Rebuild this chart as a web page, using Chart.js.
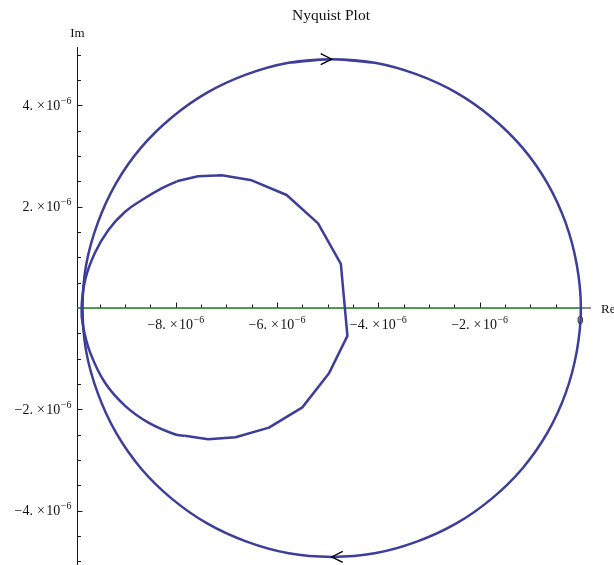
<!DOCTYPE html>
<html>
<head>
<meta charset="utf-8">
<title>Nyquist Plot</title>
<script src="https://cdn.jsdelivr.net/npm/chart.js@4/dist/chart.umd.min.js"></script>
<style>
  html, body { margin: 0; padding: 0; background: #ffffff; }
  canvas { display: block; }
</style>
</head>
<body>
<canvas id="nyquist" width="614" height="565"></canvas>
<script>
// All coordinates are in units of 1e-6 (real part, imaginary part).

// Outer locus, traversed clockwise; the first and last samples overlap
// by one step around the top so the closed curve stays smooth there.
const outerRe = [-5.77, -4.92, -4.07, -3.24, -2.46, -1.76, -1.15, -0.66, -0.30, -0.08, 0.00,
                 -0.08, -0.30, -0.66, -1.15, -1.76, -2.46, -3.24, -4.07, -4.92,
                 -5.77, -6.60, -7.38, -8.08, -8.69, -9.18, -9.54, -9.77, -9.84,
                 -9.77, -9.54, -9.18, -8.69, -8.08, -7.38, -6.60, -5.77, -4.92, -4.07];
const outerIm = [4.84, 4.91, 4.84, 4.61, 4.25, 3.76, 3.16, 2.46, 1.68, 0.85, 0.00,
                 -0.85, -1.68, -2.46, -3.16, -3.76, -4.25, -4.61, -4.84, -4.91,
                 -4.84, -4.61, -4.25, -3.76, -3.16, -2.46, -1.68, -0.85, 0.00,
                 0.85, 1.68, 2.46, 3.16, 3.76, 4.25, 4.61, 4.84, 4.91, 4.84];

// Inner loop, densely sampled left part (smooth).
const innerArcRe = [-7.98, -8.28, -8.67, -9.00, -9.33, -9.60, -9.79, -9.86, -9.83, -9.69, -9.40, -9.00, -8.54, -8.02, -7.82];
const innerArcIm = [2.50, 2.36, 2.13, 1.90, 1.54, 1.08, 0.55, 0.00, -0.36, -0.88, -1.47, -1.93, -2.26, -2.49, -2.52];

// Inner loop, sparsely sampled right part (straight segments).
const innerPolyRe = [-7.98, -7.56, -7.09, -6.50, -5.81, -5.19, -4.74, -4.61, -4.97, -5.50, -6.16, -6.82, -7.36, -7.82];
const innerPolyIm = [2.50, 2.60, 2.62, 2.52, 2.23, 1.67, 0.87, -0.55, -1.28, -1.96, -2.36, -2.55, -2.59, -2.52];

// Real-axis segment.
const realSegRe = [-9.95, 0];
const realSegIm = [0, 0];

// Direction markers on the outer locus (+1 = pointing right, -1 = pointing left).
const arrowRe = [-4.92, -4.92];
const arrowIm = [4.91, -4.91];
const arrowDir = [1, -1];

// Tick labels.
const xTickValues = [-8, -6, -4, -2];
const xTickLabels = ['\u22128.', '\u22126.', '\u22124.', '\u22122.'];
const yTickValues = [4, 2, -2, -4];
const yTickLabels = ['4.', '2.', '\u22122.', '\u22124.'];
const tickExponent = '\u22126';

// Marker for the zero-frequency end.
const startMarkRe = 0;
const startMarkIm = 0;
const startMarkText = '0';

const pts = (re, im) => re.map((v, i) => ({ x: v, y: im[i] }));

const BLUE = '#3d3d9a';
const SERIF = '"Liberation Serif", "Times New Roman", serif';

function sciLabel(ctx, mant, xRef, baseY, align) {
  const fBase = '14px ' + SERIF;
  const fExp = '10px ' + SERIF;
  ctx.font = fBase;
  const wM = ctx.measureText(mant).width;
  const wX = ctx.measureText('\u00d7').width;
  const wT = ctx.measureText('10').width;
  ctx.font = fExp;
  const wE = ctx.measureText(tickExponent).width;
  const g1 = 4, g2 = 1.5, g3 = 0.5;
  const total = wM + g1 + wX + g2 + wT + g3 + wE;
  let cx = align === 'center' ? xRef - total / 2 : xRef - total;
  ctx.textAlign = 'left';
  ctx.textBaseline = 'alphabetic';
  ctx.font = fBase;
  ctx.fillText(mant, cx, baseY); cx += wM + g1;
  ctx.fillText('\u00d7', cx, baseY); cx += wX + g2;
  ctx.fillText('10', cx, baseY); cx += wT + g3;
  ctx.font = fExp;
  ctx.fillText(tickExponent, cx, baseY - 6);
}

const axesPlugin = {
  id: 'axesPlugin',
  beforeDatasetsDraw(chart) {
    const { ctx, chartArea: a, scales: { x, y } } = chart;
    const axisY = y.getPixelForValue(0);
    const axisX = Math.round(a.left) + 0.5;
    ctx.save();
    ctx.strokeStyle = '#1a1a1a';
    ctx.lineWidth = 1;
    ctx.beginPath();
    ctx.moveTo(a.left, axisY); ctx.lineTo(a.right, axisY);
    ctx.moveTo(axisX, a.top); ctx.lineTo(axisX, a.bottom);
    // ticks on the real axis, pointing up
    for (let k = -19; k <= 0; k++) {
      const px = Math.round(x.getPixelForValue(k / 2)) + 0.5;
      const len = (k % 4 === 0) ? 5.5 : 3.5;
      ctx.moveTo(px, axisY); ctx.lineTo(px, axisY - len);
    }
    // ticks on the imaginary axis, pointing right
    for (let k = -10; k <= 10; k++) {
      if (k === 0) continue;
      const py = Math.round(y.getPixelForValue(k / 2)) + 0.5;
      const len = (k % 4 === 0) ? 5 : 3.5;
      ctx.moveTo(axisX, py); ctx.lineTo(axisX + len, py);
    }
    ctx.stroke();

    ctx.fillStyle = '#111111';
    xTickValues.forEach((v, i) => {
      sciLabel(ctx, xTickLabels[i], x.getPixelForValue(v), axisY + 20.5, 'center');
    });
    yTickValues.forEach((v, i) => {
      sciLabel(ctx, yTickLabels[i], axisX - 6, y.getPixelForValue(v) + 4.5, 'right');
    });

    ctx.font = '13px ' + SERIF;
    ctx.textAlign = 'center';
    ctx.textBaseline = 'alphabetic';
    ctx.fillText('Im', axisX, a.top - 10);
    ctx.textAlign = 'left';
    ctx.fillText('Re', a.right + 10, axisY + 5);

    ctx.font = '15.5px ' + SERIF;
    ctx.textAlign = 'center';
    ctx.fillText('Nyquist Plot', (a.left + a.right) / 2 - 3, 19.5);
    ctx.restore();
  },
  afterDatasetsDraw(chart) {
    const { ctx, scales: { x, y } } = chart;
    ctx.save();
    ctx.strokeStyle = '#000000';
    ctx.lineWidth = 1.3;
    ctx.beginPath();
    arrowRe.forEach((re, i) => {
      const px = x.getPixelForValue(re);
      const py = y.getPixelForValue(arrowIm[i]);
      const d = arrowDir[i];
      ctx.moveTo(px - d * 11, py - 5.5);
      ctx.lineTo(px, py);
      ctx.lineTo(px - d * 11, py + 5.5);
    });
    ctx.stroke();

    ctx.fillStyle = '#2b2b3b';
    ctx.font = '13px ' + SERIF;
    ctx.textAlign = 'center';
    ctx.textBaseline = 'alphabetic';
    ctx.fillText(startMarkText, x.getPixelForValue(startMarkRe) - 0.5, y.getPixelForValue(startMarkIm) + 16);
    ctx.restore();
  }
};

const lineStyle = { showLine: true, pointRadius: 0, pointHoverRadius: 0, fill: false };

new Chart(document.getElementById('nyquist'), {
  type: 'scatter',
  data: {
    datasets: [
      { ...lineStyle, data: pts(outerRe, outerIm), borderColor: BLUE, borderWidth: 2.5, tension: 0.35 },
      { ...lineStyle, data: pts(innerArcRe, innerArcIm), borderColor: BLUE, borderWidth: 2.5, tension: 0.4 },
      { ...lineStyle, data: pts(innerPolyRe, innerPolyIm), borderColor: BLUE, borderWidth: 2.5, tension: 0, borderJoinStyle: 'round' },
      { ...lineStyle, data: pts(realSegRe, realSegIm), borderColor: '#3a9a3a', borderWidth: 1.3, tension: 0 }
    ]
  },
  options: {
    responsive: false,
    animation: false,
    layout: { padding: { left: 77, right: 23, top: 47, bottom: 0 } },
    plugins: { legend: { display: false }, tooltip: { enabled: false }, title: { display: false } },
    scales: {
      x: { type: 'linear', min: -9.95, max: 0.2, display: false },
      y: { type: 'linear', min: -5.07, max: 5.15, display: false }
    }
  },
  plugins: [axesPlugin]
});
</script>
</body>
</html>
